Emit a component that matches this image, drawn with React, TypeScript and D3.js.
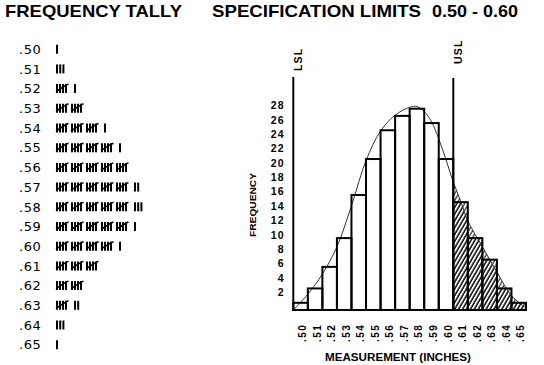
import React from "react";
import * as d3 from "d3";

// tally / histogram bins
const binLabels = [".50", ".51", ".52", ".53", ".54", ".55", ".56", ".57", ".58", ".59", ".60", ".61", ".62", ".63", ".64", ".65"];
const binValues = [0.5, 0.51, 0.52, 0.53, 0.54, 0.55, 0.56, 0.57, 0.58, 0.59, 0.6, 0.61, 0.62, 0.63, 0.64, 0.65];
const counts = [1, 3, 6, 10, 16, 21, 25, 27, 28, 26, 21, 15, 10, 7, 3, 1];
const yTicks = [2, 4, 6, 8, 10, 12, 14, 16, 18, 20, 22, 24, 26, 28];

// fitted curve
const curveInches = [0.495, 0.505, 0.515, 0.525, 0.535, 0.545, 0.555, 0.565, 0.575, 0.58, 0.585, 0.59, 0.595, 0.6, 0.605, 0.61, 0.615, 0.625, 0.635, 0.645, 0.655];
const curveFreq = [0, 2.2, 5, 8.8, 14.5, 20.8, 24.9, 27.1, 28.2, 28.3, 27.6, 26.2, 23.8, 20.9, 17.8, 15.2, 12.4, 8.8, 5.3, 2, 0.3];

const LSL = 0.495;
const USL = 0.605;
const binWidth = 0.01;

const W = 544;
const H = 365;
const plot = {left: 293.3, right: 526, bottom: 310, top28: 108.7};
const limitTop = 77;

const App = () => {
  const x = d3.scaleLinear().domain([0.495, 0.655]).range([plot.left, plot.right]);
  const y = d3.scaleLinear().domain([0, 28]).range([plot.bottom, plot.top28]);

  const pts: [number, number][] = curveInches.map((v, i) => [v, curveFreq[i]]);

  const line = d3.line<[number, number]>()
    .x(d => x(d[0]))
    .y(d => y(d[1]))
    .curve(d3.curveCatmullRom);

  const area = d3.area<[number, number]>()
    .x(d => x(d[0]))
    .y0(y(0))
    .y1(d => y(d[1]))
    .curve(d3.curveCatmullRom);

  const rowY = (i: number) => 49.2 + i * 19.7;
  const numFont = "'Liberation Sans', Arial, sans-serif";

  return (
    <svg width={W} height={H} style={{position: "absolute", left: 0, top: 0, background: "#fff"}}>
      <defs>
        <pattern id="hatch" width="3.4" height="10" patternUnits="userSpaceOnUse" patternTransform="rotate(30)">
          <line x1="1" y1="0" x2="1" y2="10" stroke="#000" strokeWidth="1" />
        </pattern>
        <clipPath id="usl-clip">
          <rect x={x(USL)} y={0} width={W - x(USL)} height={plot.bottom} />
        </clipPath>
      </defs>

      {/* titles */}
      <text x={5} y={17} fontFamily={numFont} fontWeight="bold" fontSize={17} textLength={177} lengthAdjust="spacingAndGlyphs">FREQUENCY TALLY</text>
      <text x={212} y={17} fontFamily={numFont} fontWeight="bold" fontSize={17} textLength={209} lengthAdjust="spacingAndGlyphs">SPECIFICATION LIMITS</text>
      <text x={432} y={17} fontFamily={numFont} fontWeight="bold" fontSize={17} textLength={86} lengthAdjust="spacingAndGlyphs">0.50 - 0.60</text>

      {/* tally */}
      <g>
        {binLabels.map((lab, i) => {
          const cy = rowY(i);
          const n = counts[i];
          const groups = Math.floor(n / 5);
          const rest = n % 5;
          const marks: JSX.Element[] = [];
          for (let g = 0; g < groups; g++) {
            const gx = 57 + g * 15;
            for (let k = 0; k < 4; k++) {
              marks.push(<line key={`g${g}-${k}`} x1={gx + k * 3} x2={gx + k * 3} y1={cy - 4.5} y2={cy + 4.5} stroke="#000" strokeWidth={2} />);
            }
            marks.push(<path key={`d${g}`} d={`M${gx - 1},${cy + 3} L${gx + 9},${cy - 3.5} L${gx + 11.5},${cy - 4.5}`} fill="none" stroke="#000" strokeWidth={1.5} />);
          }
          const sx = 57 + groups * 15 + (groups > 0 ? 3 : 0);
          for (let k = 0; k < rest; k++) {
            marks.push(<line key={`s${k}`} x1={sx + k * 3.2} x2={sx + k * 3.2} y1={cy - 4.5} y2={cy + 4.5} stroke="#000" strokeWidth={2} />);
          }
          return (
            <g key={lab}>
              <text x={19} y={cy + 4.7} fontFamily="'DejaVu Sans', sans-serif" fontSize={13} letterSpacing={0.6}>{lab}</text>
              {marks}
            </g>
          );
        })}
      </g>

      {/* bars fill */}
      {binValues.map((v, i) => (
        <rect key={`f${i}`} x={x(v - binWidth / 2)} y={y(counts[i])} width={x(v + binWidth / 2) - x(v - binWidth / 2)} height={y(0) - y(counts[i])}
          fill={v > USL ? "url(#hatch)" : "#fff"} />
      ))}
      <path d={area(pts) || ""} fill="url(#hatch)" clipPath="url(#usl-clip)" />

      {/* fitted curve */}
      <path d={line(pts) || ""} fill="none" stroke="#333" strokeWidth={1} />

      {/* bar outlines */}
      {binValues.map((v, i) => (
        <rect key={`o${i}`} x={x(v - binWidth / 2)} y={y(counts[i])} width={x(v + binWidth / 2) - x(v - binWidth / 2)} height={y(0) - y(counts[i])}
          fill="none" stroke="#000" strokeWidth={2} />
      ))}

      {/* baseline */}
      <line x1={x(0.495) - 1} x2={x(0.655) + 1} y1={y(0)} y2={y(0)} stroke="#000" strokeWidth={2.2} />

      {/* spec limit lines */}
      <line x1={x(LSL)} x2={x(LSL)} y1={limitTop} y2={y(0)} stroke="#000" strokeWidth={2} />
      <line x1={x(USL)} x2={x(USL)} y1={limitTop + 1} y2={y(0)} stroke="#000" strokeWidth={2} />
      <text transform={`translate(${x(LSL) + 9},71) rotate(-90)`} fontFamily={numFont} fontWeight="bold" fontSize={10.5} letterSpacing={1.2}>LSL</text>
      <text transform={`translate(${x(USL) + 8.5},64) rotate(-90)`} fontFamily={numFont} fontWeight="bold" fontSize={10.5} letterSpacing={1.2}>USL</text>

      {/* y ticks */}
      {yTicks.map(t => (
        <text key={t} x={285} y={y(t) - 3.5} dominantBaseline="central" textAnchor="end" fontFamily={numFont} fontWeight="bold" fontSize={10.5} letterSpacing={1.3}>{t}</text>
      ))}
      <text transform="translate(256,205) rotate(-90)" textAnchor="middle" fontFamily={numFont} fontWeight="bold" fontSize={9} textLength={64} lengthAdjust="spacingAndGlyphs">FREQUENCY</text>

      {/* x ticks */}
      {binValues.map((v, i) => (
        <text key={`x${i}`} transform={`translate(${x(v) + 5.5},342) rotate(-90)`} fontFamily={numFont} fontWeight="bold" fontSize={10} letterSpacing={1.5}>{binLabels[i]}</text>
      ))}
      <text x={398} y={361} textAnchor="middle" fontFamily={numFont} fontWeight="bold" fontSize={10.5} textLength={146} lengthAdjust="spacingAndGlyphs">MEASUREMENT (INCHES)</text>
    </svg>
  );
};

export default App;
